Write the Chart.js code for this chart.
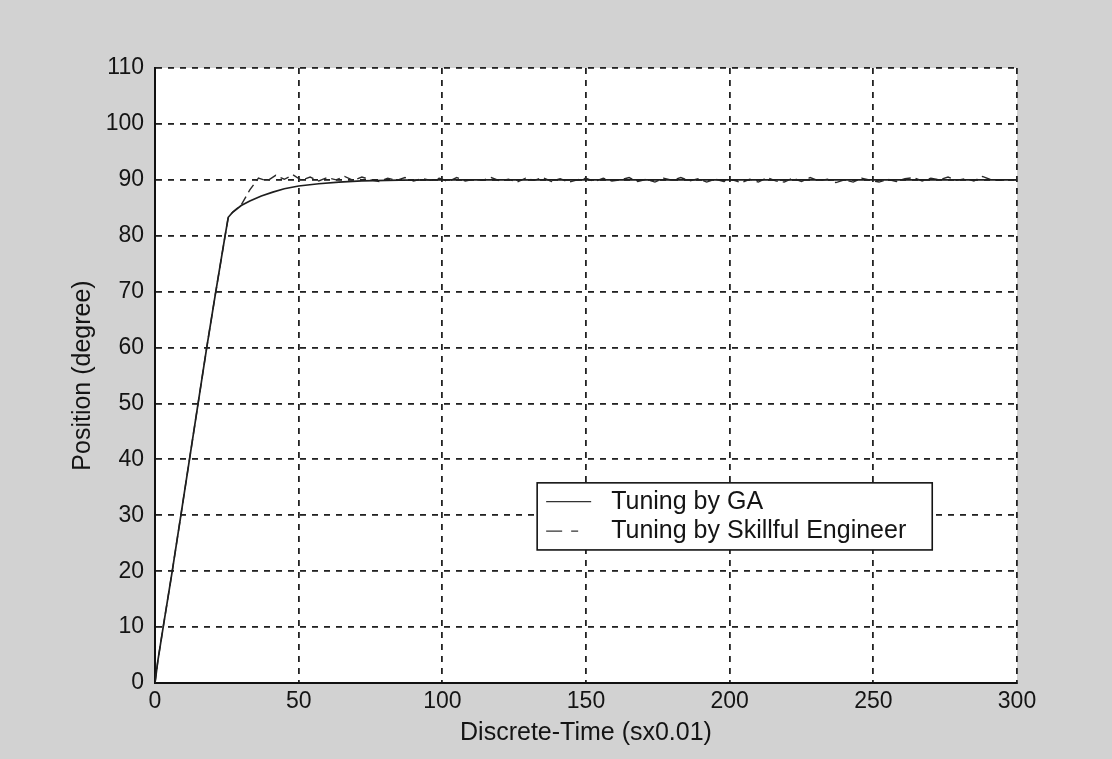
<!DOCTYPE html>
<html>
<head>
<meta charset="utf-8">
<title>Position response</title>
<script src="https://cdn.jsdelivr.net/npm/chart.js@4"></script>
<style>
  html, body { margin: 0; padding: 0; background: #d2d2d2; }
  #wrap { width: 1112px; height: 759px; }
</style>
</head>
<body>
<div id="wrap"><canvas id="chart" width="1112" height="759"></canvas></div>
<script>
// GA-tuned response (time, degree)
const gaTime = [0, 1, 3, 6, 9, 12, 15, 18, 21, 24.4, 25.5, 27, 30, 33, 37, 41, 45, 50, 57, 64, 72, 85, 100, 150, 200, 250, 300];
const gaPos  = [0, 4, 10.5, 20, 30, 40, 50, 60, 69.5, 80, 83.3, 84.2, 85.4, 86.2, 87.1, 87.8, 88.4, 88.9, 89.3, 89.6, 89.8, 89.95, 90, 90, 90, 90, 90];

// engineer-tuned response
const engTime = [0, 1, 3, 6, 9, 12, 15, 18, 21, 24.4, 25.5, 27, 30, 33, 35,
  36, 39, 42, 45, 48, 51, 54, 57, 60, 63, 66, 69, 72, 75, 78, 81, 84, 87, 90, 93, 96, 99,
  102, 105, 108, 111, 114, 117, 120, 123, 126, 129, 132, 135, 138, 141, 144, 147, 150,
  153, 156, 159, 162, 165, 168, 171, 174, 177, 180, 183, 186, 189, 192, 195, 198, 201,
  204, 207, 210, 213, 216, 219, 222, 225, 228, 231, 234, 237, 240, 243, 246, 249, 252,
  255, 258, 261, 264, 267, 270, 273, 276, 279, 282, 285, 288, 291, 294, 297, 300];
const engPos = [0, 4, 10.5, 20, 30, 40, 50, 60, 69.5, 80, 83.3, 84.2, 85.5, 88.2, 89.6,
  90.3, 89.8, 90.8, 90.1, 90.9, 89.9, 90.5, 89.8, 90.4, 90.0, 90.6, 89.9, 90.5, 90.0, 89.7, 90.3, 89.9, 90.4, 89.8, 90.2, 89.9, 90.3,
  89.7, 90.4, 89.8, 90.1, 89.9, 90.4, 89.8, 90.1, 89.6, 90.3, 89.9, 90.4, 89.7, 90.2, 89.6, 90.0, 90.3,
  89.7, 90.3, 89.8, 90.0, 90.4, 89.7, 90.1, 89.6, 90.3, 89.9, 90.4, 89.8, 90.2, 89.6, 90.1, 89.7, 90.0,
  89.5, 90.1, 89.6, 90.4, 89.8, 89.6, 90.3, 89.7, 90.4, 89.8, 90.1, 89.5, 90.0, 89.6, 90.3, 89.9, 89.6,
  90.1, 89.7, 90.2, 90.4, 89.8, 90.3, 90.0, 90.5, 89.9, 90.2, 89.8, 90.6, 90.0, 89.9, 90.0, 90.0];

const seriesLabels = ["Tuning by GA", "Tuning by Skillful Engineer"];
const xTicks = [0, 50, 100, 150, 200, 250, 300];
const yTicks = [0, 10, 20, 30, 40, 50, 60, 70, 80, 90, 100, 110];

const FONT = "'Liberation Sans', Arial, Helvetica, sans-serif";
const INK = "#141414";

const toPoints = (xs, ys) => xs.map((x, i) => ({ x: x, y: ys[i] }));

// white plot area
const plotBg = {
  id: "plotBg",
  beforeDraw(chart) {
    const { ctx, chartArea: a } = chart;
    ctx.save();
    ctx.fillStyle = "#ffffff";
    ctx.fillRect(a.left, a.top, a.right - a.left, a.bottom - a.top);
    ctx.restore();
  }
};

// boxed legend inside the plot, like the matlab one
const boxLegend = {
  id: "boxLegend",
  afterDraw(chart) {
    const { ctx } = chart;
    const xs = chart.scales.x, ys = chart.scales.y;
    const left = xs.getPixelForValue(133), right = xs.getPixelForValue(270.5);
    const top = ys.getPixelForValue(35.8), bottom = ys.getPixelForValue(23.8);
    ctx.save();
    ctx.fillStyle = "#ffffff";
    ctx.fillRect(left, top, right - left, bottom - top);
    ctx.strokeStyle = INK;
    ctx.lineWidth = 1.6;
    ctx.strokeRect(left, top, right - left, bottom - top);
    const rowH = (bottom - top) / 2;
    ctx.font = "25px " + FONT;
    ctx.textBaseline = "middle";
    chart.data.datasets.forEach((ds, i) => {
      const cy = top + rowH * (i + 0.5) + (i === 0 ? 2 : -2);
      ctx.strokeStyle = "#333";
      ctx.lineWidth = 1.4;
      ctx.setLineDash(i === 1 ? [16, 9, 7, 100] : []);
      ctx.beginPath();
      ctx.moveTo(left + 9, cy);
      ctx.lineTo(left + 54, cy);
      ctx.stroke();
      ctx.setLineDash([]);
      ctx.fillStyle = INK;
      ctx.fillText(ds.label, left + 74, cy);
    });
    ctx.restore();
  }
};

new Chart(document.getElementById("chart"), {
  type: "scatter",
  data: {
    datasets: [
      {
        label: seriesLabels[0],
        data: toPoints(gaTime, gaPos),
        showLine: true,
        borderColor: "#1e1e1e",
        borderWidth: 1.7,
        pointRadius: 0,
        tension: 0
      },
      {
        label: seriesLabels[1],
        data: toPoints(engTime, engPos),
        showLine: true,
        borderColor: "#2a2a2a",
        borderWidth: 1.4,
        borderDash: [9, 5],
        pointRadius: 0,
        tension: 0
      }
    ]
  },
  options: {
    responsive: false,
    animation: false,
    layout: { padding: { top: 68, right: 95, left: 0, bottom: 0 } },
    plugins: {
      legend: { display: false },
      tooltip: { enabled: false }
    },
    scales: {
      x: {
        type: "linear",
        min: 0,
        max: 300,
        afterBuildTicks: (s) => { s.ticks = xTicks.map((v) => ({ value: v })); },
        afterFit: (s) => { s.height = 76; },
        ticks: { padding: 5, color: INK, font: { family: FONT, size: 23 } },
        grid: { color: "#222", lineWidth: 1.8, drawTicks: false },
        border: { display: true, color: "#111", width: 2, dash: [6, 6] },
        title: {
          display: true,
          text: "Discrete-Time (sx0.01)",
          color: INK,
          font: { family: FONT, size: 25 },
          padding: { top: 0, bottom: 11 }
        }
      },
      y: {
        type: "linear",
        min: 0,
        max: 110,
        afterBuildTicks: (s) => { s.ticks = yTicks.map((v) => ({ value: v })); },
        afterFit: (s) => { s.width = 155; },
        ticks: { padding: 11, color: INK, font: { family: FONT, size: 23 } },
        grid: { color: "#222", lineWidth: 1.8, drawTicks: false },
        border: { display: true, color: "#111", width: 2, dash: [6, 6] },
        title: {
          display: true,
          text: "Position (degree)",
          color: INK,
          font: { family: FONT, size: 25 },
          padding: { top: 68, bottom: 0 }
        }
      }
    }
  },
  plugins: [plotBg, boxLegend]
});
</script>
</body>
</html>
